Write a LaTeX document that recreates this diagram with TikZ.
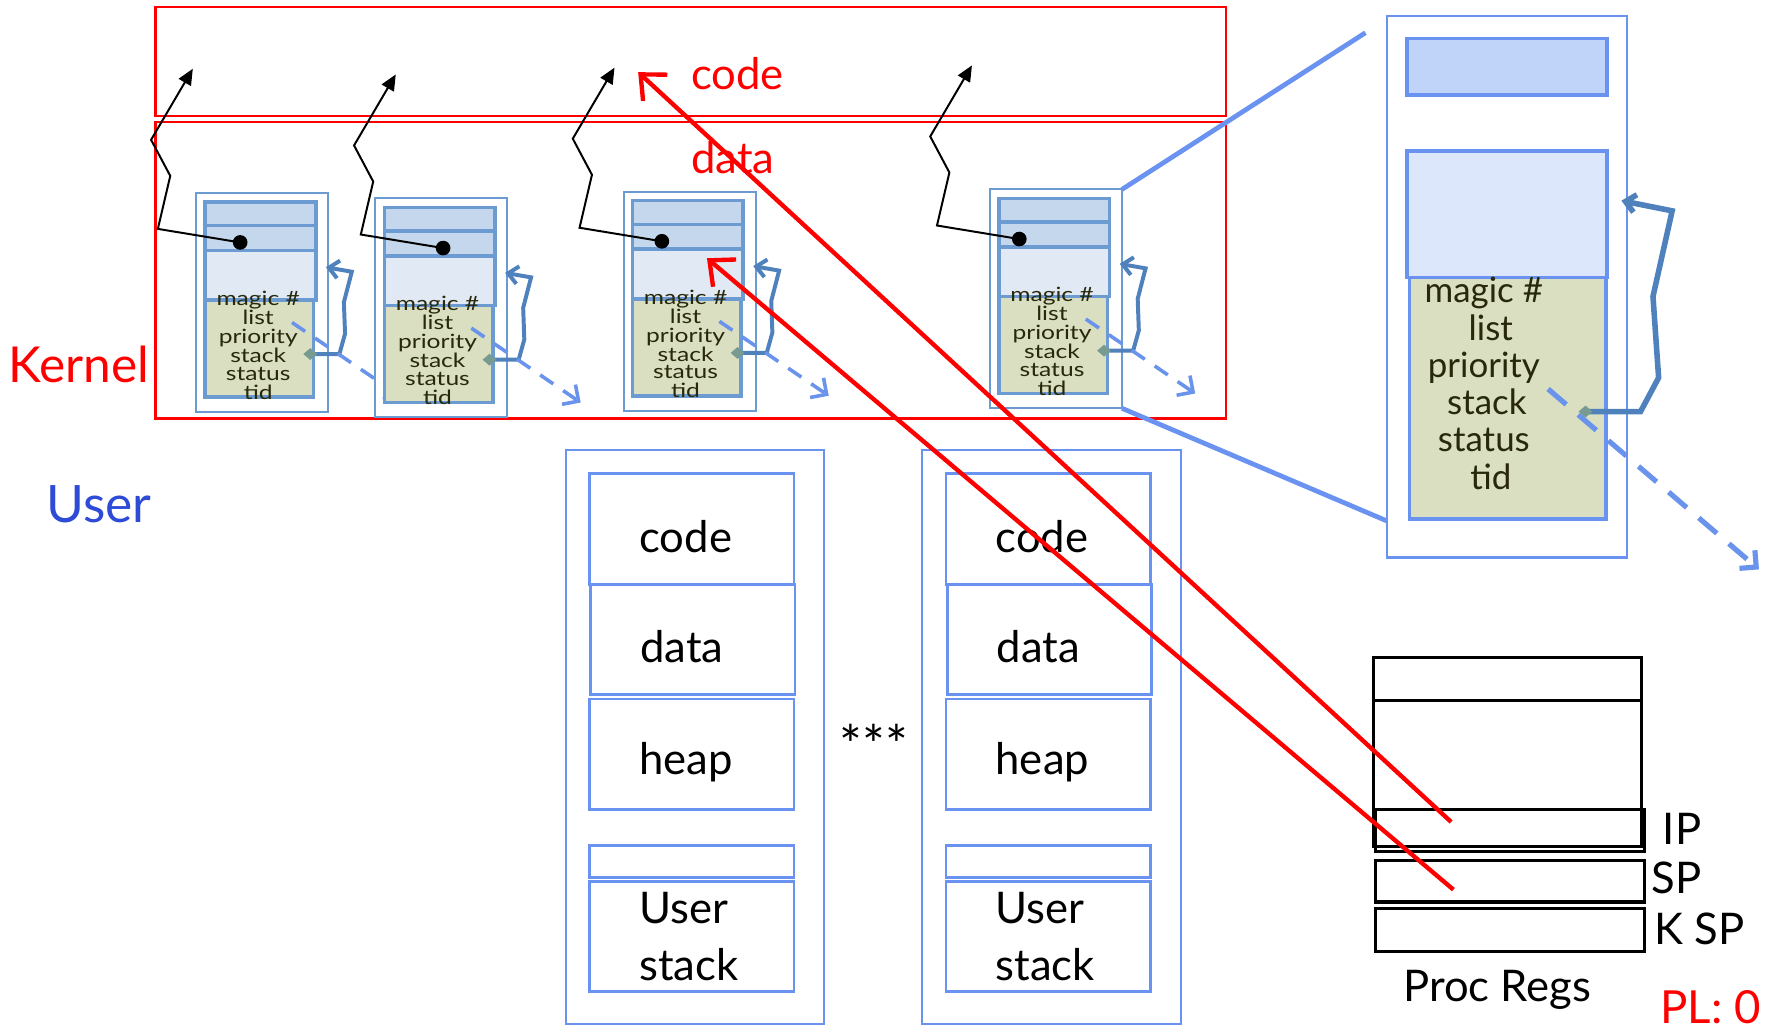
\documentclass[tikz,border=0pt]{standalone}
\usepackage{fontspec}
\setmainfont{Lato}
\usetikzlibrary{arrows.meta}

\definecolor{kred}{RGB}{255,0,0}
\definecolor{ublue}{RGB}{46,75,216}
\definecolor{boxblue}{RGB}{106,146,240}
\definecolor{tcbline}{RGB}{108,155,210}
\definecolor{bandfill}{RGB}{197,215,236}
\definecolor{lightfill}{RGB}{225,233,245}
\definecolor{greenfill}{RGB}{217,223,192}
\definecolor{bigband}{RGB}{192,212,249}
\definecolor{biglight}{RGB}{220,231,252}
\definecolor{tcbtext}{RGB}{40,40,10}
\definecolor{linkblue}{RGB}{79,129,189}
\definecolor{diamc}{RGB}{120,155,145}

\newcommand\fieldlist{\scalebox{1}[0.8]{\begin{tabular}{@{}c@{}}magic \#\\list\\priority\\stack\\status\\tid\end{tabular}}}

\begin{document}
\begin{tikzpicture}
	[
	x=0.01cm, y=-0.01cm,
	box/.style={draw, inner sep=0pt, outer sep=0pt, anchor=north west},
	seg/.style={box, draw=kred, line width=0.6pt, minimum width=9.49cm},
	space/.style={box, draw=boxblue, line width=0.45pt, minimum width=2.29cm, minimum height=5.09cm},
	area/.style={box, draw=boxblue, line width=0.7pt, font=\fontsize{11}{14.2}\selectfont,
		text width=0.93cm, inner xsep=0.44cm, align=left, minimum width=1.81cm, minimum height=0.98cm},
	word/.style={text height=0.42cm},
	tcbout/.style={box, draw=tcbline, line width=0.5pt, minimum width=1.17cm, minimum height=1.94cm},
	band/.style={box, draw=tcbline, fill=bandfill, line width=0.9pt, minimum width=0.98cm},
	lightbox/.style={box, draw=tcbline, fill=lightfill, line width=0.9pt, minimum width=0.98cm},
	greenbox/.style={box, draw=tcbline, fill=greenfill, line width=0.9pt, minimum width=0.96cm},
	fieldtext/.style={align=center, inner sep=0pt, text=tcbtext, font=\fontsize{6.2}{4.8}\selectfont},
	bigbox/.style={box, draw=boxblue, line width=0.9pt},
	reg/.style={box, draw=black, line width=0.8pt, minimum width=2.38cm},
	lbl/.style={inner sep=0pt, font=\fontsize{11}{13}\selectfont},
	dot/.style={circle, fill=black, inner sep=0pt, minimum size=0.13cm},
	ptr/.style={draw=black, line width=0.5pt, -{Triangle[length=4pt,width=3.5pt]}},
	back/.style={draw=linkblue, line width=1pt,
		{Diamond[length=3.5pt,width=3pt,color=diamc]}-{Straight Barb[length=2.5pt,width=4.5pt]}},
	next/.style={draw=boxblue!85!tcbline, line width=0.9pt, dash pattern=on 4pt off 3pt,
		-{Straight Barb[length=3pt,width=6pt]}},
	regptr/.style={draw=kred, line width=1.1pt, -{Straight Barb[length=5pt,width=9pt]}},
	zoomline/.style={draw=boxblue, line width=1.2pt},
	]
	\useasboundingbox (0,0) rectangle (1568,912);

	% kernel code and data
	\node[seg, minimum height=0.97cm] (kcode) at (138,6) {};
	\node[seg, minimum height=2.63cm] (kdata) at (138,108) {};
	\node[text=kred, font=\fontsize{11}{13}\selectfont] (kcode-l) at (654,65) {code};
	\node[text=kred, font=\fontsize{11}{13}\selectfont] (kdata-l) at (650,140) {data};
	\node[text=kred, font=\fontsize{12.5}{15}\selectfont] (kernel) at (70,323) {Kernel};
	\node[text=ublue, font=\fontsize{13}{15}\selectfont] (user) at (88,447) {User};

	% thread blocks in kernel data
	\foreach \i/\bx/\by/\dx in {1/174/171/39, 2/333/176/60, 3/553/170/34, 4/878/168/26} {
		\node[tcbout] (b\i) at (\bx,\by) {};
		\node[band, minimum height=0.21cm] (b\i-a) at (\bx+8,\by+8) {};
		\node[band, minimum height=0.22cm] (b\i-b) at (\bx+8,\by+29) {};
		\node[lightbox, minimum height=0.44cm] (b\i-c) at (\bx+8,\by+51) {};
		\node[greenbox, minimum height=0.86cm] (b\i-d) at (\bx+8,\by+95) {};
		\node[fieldtext] (b\i-t) at (\bx+55,\by+137) {\fieldlist};
		% pointer to code
		\path (\bx+\dx,\by+44) ++(-42,-154) coordinate (c\i);
		\draw[ptr] (\bx+\dx,\by+44) -- ++(-73,-12) -- ++(11,-47) -- ++(-17,-32) -- (c\i);
		\node[dot] (d\i) at (\bx+\dx,\by+44) {};
		% stack and list links
		\coordinate (s\i) at (\bx+95,\by+143);
		\draw[back] (s\i) -- ++(32,0) -- ++(5,-18) -- ++(-1,-28) -- ++(7,-27) -- ++(-23,-4);
		\coordinate (l\i) at (\bx+85,\by+115);
		\coordinate (n\i) at (\bx+182,\by+181);
		\draw[next] (l\i) -- (n\i);
	}

	% enlarged thread block
	\node[bigbox, line width=0.6pt, minimum width=2.13cm, minimum height=4.80cm] (tcb) at (1230,14) {};
	\node[bigbox, fill=bigband, minimum width=1.77cm, minimum height=0.50cm] (tcb-a) at (1248,34) {};
	\node[bigbox, fill=biglight, minimum width=1.77cm, minimum height=1.12cm] (tcb-c) at (1248,134) {};
	\node[bigbox, fill=greenfill, minimum width=1.74cm, minimum height=2.14cm] (tcb-d) at (1250,246) {};
	\node[fieldtext, font=\fontsize{8.8}{9.4}\selectfont] (tcb-t) at (1316,340)
		{magic \#\\\hspace*{3.5pt}list\\priority\\\hspace*{1.5pt}stack\\status\\\hspace*{3.5pt}tid};
	\coordinate (ts) at (1400,365);
	\draw[back, line width=1.4pt] (ts) -- ++(55,0) -- ++(16,-30) -- ++(-5,-72) -- ++(17,-76) -- ++(-45,-9);
	\coordinate (tl) at (1373,345);
	\coordinate (tn) at (1560,505);
	\draw[next, line width=1.3pt, dash pattern=on 6pt off 4pt] (tl) -- (tn);
	\coordinate (z1) at (1211,29);
	\coordinate (z2) at (1230,462);
	\draw[zoomline] (b4.north east) -- (z1);
	\draw[zoomline] (b4.south east) -- (z2);

	% user address spaces
	\foreach \s/\ux in {l/502, r/818} {
		\node[space] (u\s) at (\ux,399) {};
		\node[area, word] (u\s-code) at (\ux+21,420) {code};
		\node[area, word] (u\s-data) at (\ux+22,518) {data};
		\node[area, word] (u\s-heap) at (\ux+21,620) {heap};
		\node[area, minimum height=0.28cm] (u\s-gap) at (\ux+21,750) {};
		\node[area, minimum height=0.97cm] (u\s-stack) at (\ux+21,782) {User\\stack};
	}
	\node[lbl, font=\fontsize{13.5}{15}\selectfont] (more) at (775,660) {***};

	% processor registers
	\node[reg, minimum height=1.68cm] (regs) at (1218,583) {};
	\node[reg, minimum height=0.38cm] (r-top) at (1218,583) {};
	\node[reg, minimum height=0.37cm] (ip) at (1220,718) {};
	\node[reg, minimum height=0.37cm] (sp) at (1220,763) {};
	\node[reg, minimum height=0.38cm] (ksp) at (1220,806) {};
	\node[lbl, anchor=west] (ip-l) at (1474,735) {IP};
	\node[lbl, anchor=west] (sp-l) at (1464,779) {SP};
	\node[lbl, anchor=west] (ksp-l) at (1467,824) {K SP};
	\node[lbl] (regs-l) at (1328,878) {Proc Regs};
	\node[lbl, text=kred, font=\fontsize{11.5}{13}\selectfont] (pl) at (1517,893) {PL: 0};

	% register contents
	\coordinate (ipv) at (1287,729);
	\coordinate (spv) at (1289,789);
	\coordinate (codev) at (566,64);
	\coordinate (stackv) at (627,229);
	\draw[regptr] (ipv) -- (codev);
	\draw[regptr] (spv) -- (stackv);

\end{tikzpicture}
\end{document}
